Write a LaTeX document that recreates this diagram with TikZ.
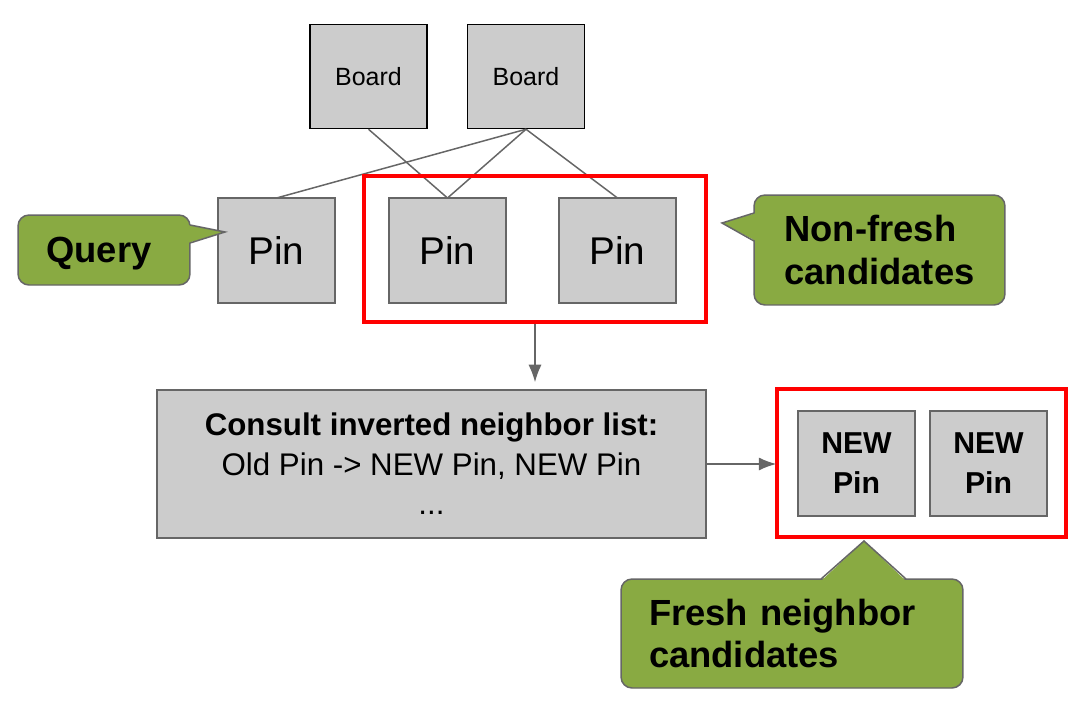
\documentclass[tikz,border=0pt]{standalone}
\usepackage{fontspec}
\setmainfont{Liberation Sans}
\usetikzlibrary{arrows.meta}
\definecolor{boxgray}{HTML}{CCCCCC}
\definecolor{linegray}{HTML}{666666}
\definecolor{notegreen}{HTML}{89AA42}

\begin{document}
\begin{tikzpicture}[x=0.02cm,y=-0.02cm,
  pinbox/.style={draw=linegray,fill=boxgray,line width=0.85pt,minimum width=2.34cm,
    minimum height=2.1cm,inner sep=0pt,font=\fontsize{22}{26}\selectfont},
  boardbox/.style={pinbox,draw=black,minimum height=2.08cm,font=\fontsize{14.2}{17}\selectfont},
  newbox/.style={pinbox,align=center,font=\bfseries\fontsize{17.2}{22.7}\selectfont},
  redframe/.style={draw=red,line width=2.8pt,inner sep=0pt},
  note/.style={draw=linegray,fill=notegreen,line width=0.85pt,rounded corners=0.22cm,
    inner sep=0pt,font=\bfseries\fontsize{20.7}{24.4}\selectfont},
  edge/.style={draw=linegray,line width=0.85pt},
  flow/.style={edge,-{Latex[length=10pt,width=7.5pt]}}]
  \useasboundingbox (0,0) rectangle (1086,704);

  % boards and pins
  \node[boardbox] (board1) at (368.5,76.5) {Board};
  \node[boardbox] (board2) at (526,76.5) {Board};
  \draw[edge] (board1.south) -- (447.5,198) coordinate (pinAtop);
  \draw[edge] (board2.south) -- (276.5,198);
  \draw[edge] (board2.south) -- (pinAtop);
  \draw[edge] (board2.south) -- (617.5,198);
  \node[pinbox] (pinQ) at (276.5,250.5) {Pin};
  \node[pinbox] (pinA) at (447.5,250.5) {Pin};
  \node[pinbox] (pinB) at (617.5,250.5) {Pin};
  \node[redframe,minimum width=6.84cm,minimum height=2.92cm] (oldset) at (535,249) {};

  % inverted list lookup
  \node[pinbox,minimum width=10.98cm,minimum height=2.96cm,align=center,
    font=\fontsize{17.8}{22.4}\selectfont] (consult) at (431.5,464)
    {\textbf{Consult inverted neighbor list:}\\Old Pin -> NEW Pin, NEW Pin\\...};
  \node[redframe,minimum width=5.78cm,minimum height=2.96cm] (newset) at (921.5,463) {};
  \node[newbox] (new1) at (856.5,463.5) {NEW\\Pin};
  \node[newbox] (new2) at (988.5,463.5) {NEW\\Pin};
  \draw[flow,shorten >=4pt] (oldset.south) -- (oldset.south |- consult.north);
  \draw[flow,shorten >=-1pt] (consult.east) -- (consult.east -| newset.west);

  % callouts
  \node[note,minimum width=3.44cm,minimum height=1.4cm,text depth=0pt] (query) at (104,250)
    {\hspace*{-0.2cm}Query};
  \fill[notegreen] (188,225) -- (225,232) -- (188,243) -- cycle;
  \draw[edge] (190,225) -- (225,232) -- (190,243);

  \node[note,minimum width=5.02cm,minimum height=2.2cm,align=left] (nonfresh) at (879.5,250)
    {Non-fresh\\candidates};
  \fill[notegreen] (756,213) -- (722,223) -- (756,241) -- cycle;
  \draw[edge] (754,213) -- (722,223) -- (754,241);

  \node[note,minimum width=6.84cm,minimum height=2.18cm,text width=5.72cm,align=left]
    (fresh) at (792,633.5) {Fresh neighbor\\candidates};
  \fill[notegreen] (821,581) -- (864,541) -- (906,581) -- cycle;
  \draw[edge] (821,579) -- (864,541) -- (906,579);
\end{tikzpicture}
\end{document}
